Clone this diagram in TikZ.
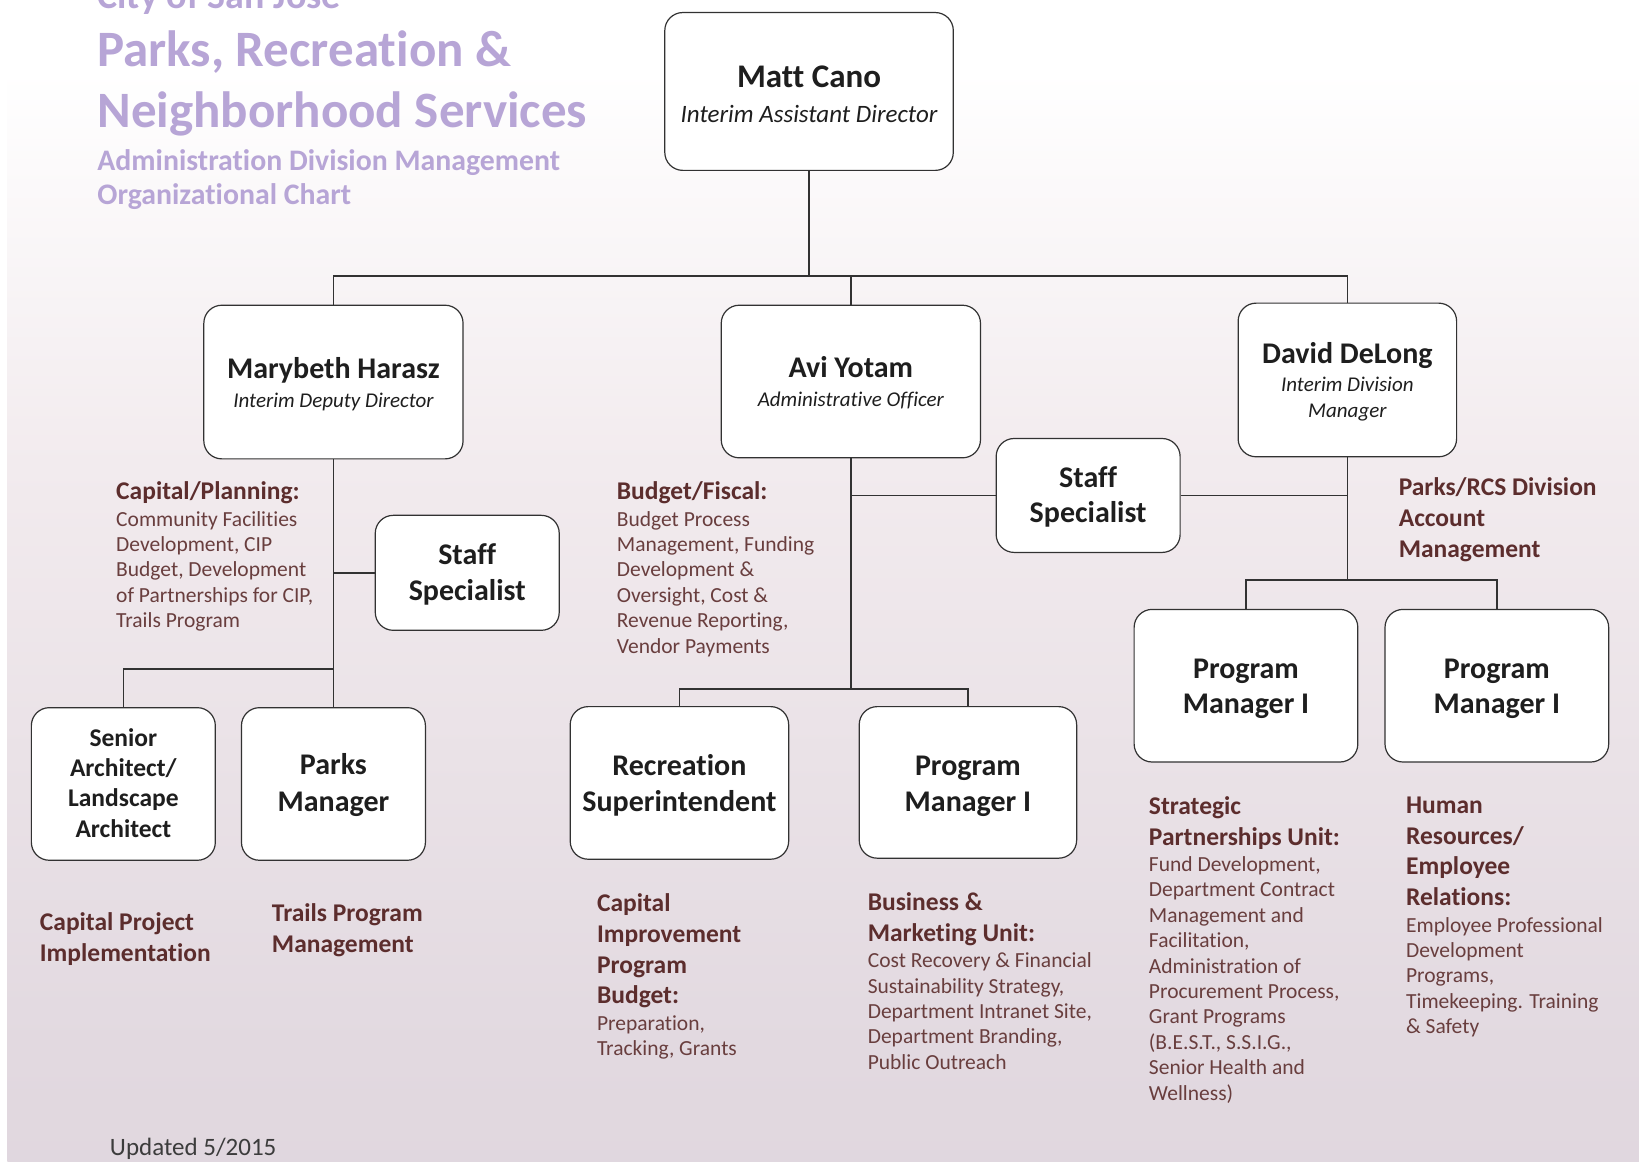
\documentclass[tikz,border=0pt]{standalone}
\usepackage{fontspec}
\setmainfont{Carlito}[Ligatures={NoCommon}]
\usetikzlibrary{calc}
\definecolor{bgA}{RGB}{216,206,216}
\definecolor{bgB}{RGB}{226,217,224}
\definecolor{bgC}{RGB}{242,235,238}
\definecolor{titlecol}{RGB}{183,165,214}
\definecolor{hdrcol}{RGB}{92,45,45}
\definecolor{desccol}{RGB}{105,62,62}
\definecolor{boxtext}{RGB}{30,30,30}
\definecolor{linecol}{RGB}{50,50,50}
\definecolor{updcol}{RGB}{60,60,60}
\pgfdeclareverticalshading{bgshade}{100bp}{color(0bp)=(bgA); color(30bp)=(bgB); color(55bp)=(bgC); color(72bp)=(white); color(100bp)=(white)}
\def\u{1.0453pt}
\newcommand\hfnt{\fontsize{25.5}{30.8}\selectfont\bfseries}
\newcommand\dsc{\par\vspace{1pt}\fontsize{21.5}{25.4}\selectfont\mdseries\color{desccol}}
\newcommand\subf[1]{\fontsize{21}{#1}\selectfont\mdseries\itshape}
\tikzset{
  orgbox/.style 2 args={draw=linecol, line width=1.2pt, fill=white, rounded corners=18pt,
    minimum width=#1*\u, minimum height=#2*\u, inner sep=0pt},
  lbl/.style={anchor=base, inner sep=0pt, text width=#1*\u, align=flush center, text=boxtext, font=\bfseries},
  conn/.style={draw=linecol, line width=1.4pt},
  hdr/.style={anchor=base west, inner sep=0pt, text width=600pt, align=flush left, text=hdrcol, font=\hfnt},
  ttl/.style={anchor=base west, inner sep=0pt, text=titlecol},
}
\begin{document}
\begin{tikzpicture}[x=1.0453pt, y=-1.0453pt]
\useasboundingbox (0,0) rectangle (1568,1111);
\fill[white] (0,0) rectangle (1568,1111);
\shade[shading=bgshade] (7,0) rectangle (1568,1111);

% title
\node[ttl, font=\fontsize{38}{40}\selectfont\bfseries] (ti0) at (93,8) {City of San Jose};
\node[ttl, font=\fontsize{51}{55}\selectfont\bfseries] (ti1) at (93,64) {Parks, Recreation \&};
\node[ttl, font=\fontsize{51}{55}\selectfont\bfseries] (ti2) at (93,122) {Neighborhood Services};
\node[ttl, font=\fontsize{29.8}{32}\selectfont\bfseries] (ti3) at (93,163) {Administration Division Management};
\node[ttl, font=\fontsize{29.8}{32}\selectfont\bfseries] (ti4) at (93,196) {Organizational Chart};

% boxes
\node[orgbox={276}{151}] (matt) at (774,87.5) {};
\node[orgbox={248}{147}] (mary) at (319,365.5) {};
\node[orgbox={248}{146}] (avi) at (814,365) {};
\node[orgbox={209}{147}] (david) at (1289,363.5) {};
\node[orgbox={176}{110}] (ssa) at (447,548) {};
\node[orgbox={176}{109}] (ssb) at (1041,474) {};
\node[orgbox={176}{146}] (sa) at (118,750) {};
\node[orgbox={176}{146}] (pk) at (319,750) {};
\node[orgbox={209}{146}] (rs) at (650,749) {};
\node[orgbox={208}{145}] (pmb) at (926,748.5) {};
\node[orgbox={214}{146}] (pmc) at (1192,656) {};
\node[orgbox={214}{146}] (pmd) at (1432,656) {};

% box labels
\node[lbl=276] (mattL) at (774,84) {\fontsize{33}{36}\selectfont Matt Cano\par\fontsize{25}{35}\selectfont\mdseries\itshape Interim Assistant Director\par};
\node[lbl=248] (maryL) at (319,362.2) {\fontsize{30}{34}\selectfont Marybeth Harasz\par\subf{28.5}Interim Deputy Director\par};
\node[lbl=248] (aviL) at (814,361.2) {\fontsize{30}{34}\selectfont Avi Yotam\par\subf{28.5}Administrative Officer\par};
\node[lbl=209] (davidL) at (1289,348.2) {\fontsize{30}{34}\selectfont David DeLong\par\vspace{1.4pt}\subf{26.1}Interim Division\\Manager\par};
\node[lbl=176, font=\fontsize{30}{35.5}\selectfont\bfseries] (ssaL) at (447,540.2) {Staff\\Specialist\par};
\node[lbl=176, font=\fontsize{30}{35.5}\selectfont\bfseries] (ssbL) at (1041,466.2) {Staff\\Specialist\par};
\node[lbl=176, font=\fontsize{25.5}{30.3}\selectfont\bfseries] (saL) at (118,713.9) {Senior\\Architect/\\Landscape\\Architect\par};
\node[lbl=176, font=\fontsize{30}{36.6}\selectfont\bfseries] (pkL) at (319,741.2) {Parks\\Manager\par};
\node[lbl=209, font=\fontsize{30}{35.5}\selectfont\bfseries] (rsL) at (650,742.2) {Recreation\\Superintendent\par};
\node[lbl=208, font=\fontsize{30}{35.5}\selectfont\bfseries] (pmbL) at (926,742.2) {Program\\Manager I\par};
\node[lbl=214, font=\fontsize{30}{34.5}\selectfont\bfseries] (pmcL) at (1192,649.2) {Program\\Manager I\par};
\node[lbl=214, font=\fontsize{30}{34.5}\selectfont\bfseries] (pmdL) at (1432,649.2) {Program\\Manager I\par};

% connectors
\coordinate (bar) at (0,264);
\coordinate (barm) at (0,640);
\coordinate (bara) at (0,659);
\coordinate (bard) at (0,555);
\draw[conn] (matt.south) -- (matt.south |- bar);
\draw[conn] (mary.north) -- (mary.north |- bar) -- (david.north |- bar) -- (david.north);
\draw[conn] (avi.north) -- (avi.north |- bar);
\draw[conn] (mary.south) -- (mary.south |- barm);
\draw[conn] (sa.north) -- (sa.north |- barm) -- (pk.north |- barm) -- (pk.north);
\draw[conn] (ssa.west) -- (ssa.west -| mary.south);
\draw[conn] (avi.south) -- (avi.south |- bara);
\draw[conn] (rs.north) -- (rs.north |- bara) -- (pmb.north |- bara) -- (pmb.north);
\draw[conn] (ssb.west) -- (ssb.west -| avi.south);
\draw[conn] (ssb.east) -- (ssb.east -| david.south);
\draw[conn] (david.south) -- (david.south |- bard);
\draw[conn] (pmc.north) -- (pmc.north |- bard) -- (pmd.north |- bard) -- (pmd.north);

% text blocks
\node[hdr] (t1) at (111,478) {Capital/Planning:\dsc Community Facilities\\Development, CIP\\Budget, Development\\of Partnerships for CIP,\\Trails Program\par};
\node[hdr] (t2) at (590,478) {Budget/Fiscal:\dsc Budget Process\\Management, Funding\\Development \&\\Oversight, Cost \&\\Revenue Reporting,\\Vendor Payments\par};
\node[hdr] (t3) at (1338,474) {Parks/RCS Division\\Account\\Management\par};
\node[hdr] (t4) at (38,890) {Capital Project\\Implementation\par};
\node[hdr] (t5) at (260,882) {Trails Program\\Management\par};
\node[hdr] (t6) at (571,872) {Capital\\Improvement\\Program\\Budget:\dsc Preparation,\\Tracking, Grants\par};
\node[hdr] (t7) at (830,871) {Business \&\\Marketing Unit:\dsc Cost Recovery \& Financial\\Sustainability Strategy,\\Department Intranet Site,\\Department Branding,\\Public Outreach\par};
\node[hdr] (t8) at (1099,779) {Strategic\\Partnerships Unit:\dsc Fund Development,\\Department Contract\\Management and\\Facilitation,\\Administration of\\Procurement Process,\\Grant Programs\\(B.E.S.T., S.S.I.G.,\\Senior Health and\\Wellness)\par};
\node[hdr] (t9) at (1345,778) {Human\\Resources/\\Employee\\Relations:\dsc Employee Professional\\Development\\Programs,\\Timekeeping. Training\\\& Safety\par};
\node[anchor=base west, inner sep=0pt, text=updcol, font=\fontsize{25}{28}\selectfont] (upd) at (105,1105) {Updated 5/2015};
\end{tikzpicture}
\end{document}
